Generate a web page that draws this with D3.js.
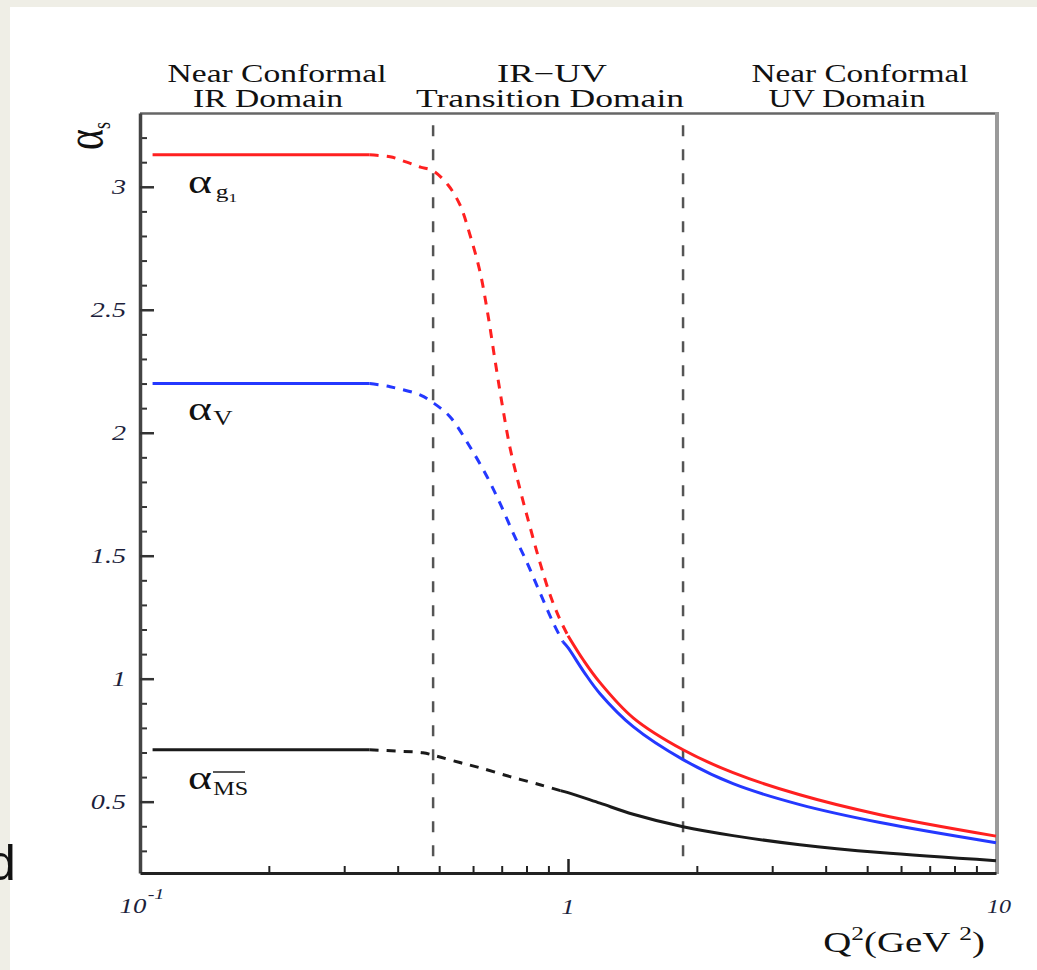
<!DOCTYPE html>
<html>
<head>
<meta charset="utf-8">
<script src="https://cdn.jsdelivr.net/npm/d3@7/dist/d3.min.js"></script>
<style>
    html,body{margin:0;padding:0;background:#efeee6;overflow:hidden;}
    svg{display:block;}
</style>
</head>
<body>
<script>
// ---- data ----
// axis ticks
var yTickVals=[0.5,1,1.5,2,2.5,3];
var yTickLabels=["0.5","1","1.5","2","2.5","3"];
var yMinorVals=[0.3,0.4,0.6,0.7,0.8,0.9,1.1,1.2,1.3,1.4,1.6,1.7,1.8,1.9,2.1,2.2,2.3,2.4,2.6,2.7,2.8,2.9,3.1,3.2];
var xMajorVals=[1];
var xMinorVals=[0.2,0.3,0.4,0.5,0.6,0.7,0.8,0.9,2,3,4,5,6,7,8,9];

// domain boundaries (Q^2) and titles
var transitions=[0.484,1.857];
var domainTitles=[
    ["Near Conformal","IR Domain"],
    ["IR\u2212UV","Transition Domain"],
    ["Near Conformal","UV Domain"]
];

// IR plateau: Q^2 range and frozen values
var irRange=[0.107,0.344];
var irPlateau=[3.13,2.2,0.711];   // g1, V, MSbar

// alpha_g1
var g1Dashed=[[0.344,3.13],[0.384,3.122],[0.42,3.1],[0.452,3.08],[0.484,3.065],[0.524,3.008],[0.559,2.927],
    [0.59,2.805],[0.623,2.654],[0.65,2.48],[0.675,2.297],[0.702,2.114],[0.732,1.939],[0.773,1.768],
    [0.815,1.618],[0.86,1.472],[0.908,1.341],[0.958,1.24],[1.0,1.175]];
var g1Solid=[[1.0,1.175],[1.089,1.073],[1.188,0.984],[1.42,0.841],[1.857,0.711],[2.43,0.618],[3.48,0.528],[5.36,0.447],[10,0.36]];

// alpha_V
var vDashed=[[0.344,2.2],[0.384,2.187],[0.451,2.154],[0.484,2.122],[0.53,2.065],[0.59,1.943],[0.647,1.821],
    [0.693,1.715],[0.744,1.593],[0.802,1.472],[0.86,1.35],[0.923,1.228],[0.973,1.15]];
var vSolid=[[0.973,1.15],[1.0,1.126],[1.089,1.028],[1.188,0.939],[1.42,0.805],[1.857,0.671],[2.43,0.573],[3.48,0.488],[5.36,0.415],[10,0.333]];

// alpha_MSbar
var msDashed=[[0.344,0.711],[0.405,0.705],[0.458,0.699],[0.494,0.685],[0.559,0.659],[0.623,0.638],
    [0.732,0.602],[0.86,0.569],[0.96,0.545]];
var msSolid=[[0.96,0.545],[1.0,0.537],[1.188,0.494],[1.42,0.449],[1.857,0.398],[2.43,0.362],[3.48,0.325],[5.36,0.293],[10,0.26]];

var seriesColors=["#ff2020","#2438ff","#1a1a1a"];

// ---- layout ----
var W=1037,H=970;
var SX=1.34;   // the figure is stretched horizontally
var serif='"Liberation Serif","Times New Roman",serif';

var svg=d3.select("body").append("svg").attr("width",W).attr("height",H);
svg.append("rect").attr("width",W).attr("height",H).attr("fill","#efeee6");
svg.append("rect").attr("x",10).attr("y",7).attr("width",W-10).attr("height",H-7).attr("fill","#ffffff");

var x=d3.scaleLog().domain([0.1,10]).range([140,996]);
var y=d3.scaleLinear().domain([0.21,3.3]).range([873,113]);

// text helper: anchored group with horizontal stretch
function label(x0,y0,size,anchor,italic){
    var g=svg.append("g").attr("transform","translate("+x0+","+y0+") scale("+SX+",1)");
    return g.append("text")
        .attr("font-family",serif)
        .attr("font-size",size)
        .attr("font-style",italic?"italic":"normal")
        .attr("text-anchor",anchor)
        .attr("fill","#111");
}

// frame
svg.append("line").attr("x1",140).attr("x2",997).attr("y1",113.5).attr("y2",113.5)
    .attr("stroke","#666").attr("stroke-width",2.5);
svg.append("line").attr("x1",997).attr("x2",997).attr("y1",112).attr("y2",874)
    .attr("stroke","#9a9a9a").attr("stroke-width",4);

// y axis ticks (inside)
var yMinorAxis=svg.append("g").attr("transform","translate(140,0)")
    .call(d3.axisLeft(y).tickValues(yMinorVals).tickSize(-7).tickSizeOuter(0).tickFormat(""));
var yMajorAxis=svg.append("g").attr("transform","translate(140,0)")
    .call(d3.axisLeft(y).tickValues(yTickVals).tickSize(-14).tickSizeOuter(0).tickFormat(""));
yMinorAxis.select(".domain").remove();
yMajorAxis.select(".domain").attr("stroke","#444").attr("stroke-width",3.5);
yMinorAxis.selectAll(".tick line").attr("stroke","#333").attr("stroke-width",2);
yMajorAxis.selectAll(".tick line").attr("stroke","#333").attr("stroke-width",2.5);

// x axis ticks (inside)
var xMinorAxis=svg.append("g").attr("transform","translate(0,873)")
    .call(d3.axisBottom(x).tickValues(xMinorVals).tickSize(-7).tickSizeOuter(0).tickFormat(""));
var xMajorAxis=svg.append("g").attr("transform","translate(0,873)")
    .call(d3.axisBottom(x).tickValues(xMajorVals).tickSize(-14).tickSizeOuter(0).tickFormat(""));
xMinorAxis.select(".domain").remove();
xMajorAxis.select(".domain").attr("stroke","#222").attr("stroke-width",3);
xMinorAxis.selectAll(".tick line").attr("stroke","#222").attr("stroke-width",2);
xMajorAxis.selectAll(".tick line").attr("stroke","#222").attr("stroke-width",2.5);

// y tick labels
yTickVals.forEach(function(v,i){
    label(126,y(v)+7,21,"end",true).attr("fill","#1d1f3c").text(yTickLabels[i]);
});

// x tick labels
var t=label(x(0.1)+2,913,20,"middle",true).attr("fill","#1d1f3c");
t.append("tspan").text("10");
t.append("tspan").attr("font-size",15).attr("dx",1).attr("dy",-14).text("-1");
label(x(1),914,20,"middle",true).attr("fill","#1d1f3c").text("1");
label(x(10)+3,913,18,"middle",true).attr("fill","#1d1f3c").text("10");

// x axis title
var q=label(985,952,29,"end",false);
q.append("tspan").text("Q");
q.append("tspan").attr("font-size",19).attr("dy",-12).text("2");
q.append("tspan").attr("dy",12).text("(GeV ");
q.append("tspan").attr("font-size",19).attr("dy",-12).text("2");
q.append("tspan").attr("dy",12).text(")");

// y axis title (rotated alpha_s)
var ya=svg.append("g").attr("transform","translate(102,150) scale("+SX+",1) rotate(-90)");
var yt=ya.append("text").attr("font-family",serif).attr("font-size",40).attr("fill","#111");
yt.append("tspan").text("\u03b1");
yt.append("tspan").attr("font-size",18).attr("dy",6).text("s");

// domain titles
var titleCenters=[[277,268],[552,550],[860,847]];
var titleWidths=[[219,150],[110,268],[217,157]];
domainTitles.forEach(function(lines,i){
    lines.forEach(function(s,j){
        label(titleCenters[i][j],82+25*j,25,"middle",false)
            .attr("textLength",titleWidths[i][j]/SX)
            .attr("lengthAdjust","spacingAndGlyphs")
            .text(s);
    });
});

// transition lines
svg.selectAll(".transition").data(transitions).enter().append("line")
    .attr("class","transition")
    .attr("x1",function(d){return x(d);}).attr("x2",function(d){return x(d);})
    .attr("y1",y(3.25)).attr("y2",y(0.25))
    .attr("stroke","#555").attr("stroke-width",2.5).attr("stroke-dasharray","11,13");

// curves
var line=d3.line()
    .x(function(d){return x(d[0]);})
    .y(function(d){return y(d[1]);})
    .curve(d3.curveCatmullRom.alpha(0.5));

var curves=[
    {flat:irPlateau[0],dashed:g1Dashed,solid:g1Solid,color:seriesColors[0]},
    {flat:irPlateau[1],dashed:vDashed,solid:vSolid,color:seriesColors[1]},
    {flat:irPlateau[2],dashed:msDashed,solid:msSolid,color:seriesColors[2]}
];
curves.forEach(function(c){
    svg.append("path").attr("d",line([[irRange[0],c.flat],[irRange[1],c.flat]]))
        .attr("fill","none").attr("stroke",c.color).attr("stroke-width",3);
    svg.append("path").attr("d",line(c.dashed))
        .attr("fill","none").attr("stroke",c.color).attr("stroke-width",3)
        .attr("stroke-dasharray","9,8");
    svg.append("path").attr("d",line(c.solid))
        .attr("fill","none").attr("stroke",c.color).attr("stroke-width",3);
});

// curve labels
var l1=label(188,193,34,"start",false);
l1.append("tspan").text("\u03b1");
l1.append("tspan").attr("font-size",19).attr("dx",3).attr("dy",5).text("g");
l1.append("tspan").attr("font-size",13).attr("dy",4).text("1");

var l2=label(188,420,34,"start",false);
l2.append("tspan").text("\u03b1");
l2.append("tspan").attr("font-size",20).attr("dx",1).attr("dy",5).text("V");

var l3=label(188,789,34,"start",false);
l3.append("tspan").text("\u03b1");
l3.append("tspan").attr("font-size",18).attr("dx",1).attr("dy",6).text("MS");
svg.append("line").attr("x1",213).attr("x2",245).attr("y1",772).attr("y2",772)
    .attr("stroke","#222").attr("stroke-width",1.5);

// stray glyph from the surrounding page
svg.append("text").attr("x",-12).attr("y",880)
    .attr("font-family",'"Liberation Sans",Arial,sans-serif').attr("font-size",50)
    .attr("fill","#111").text("d");
</script>
</body>
</html>
